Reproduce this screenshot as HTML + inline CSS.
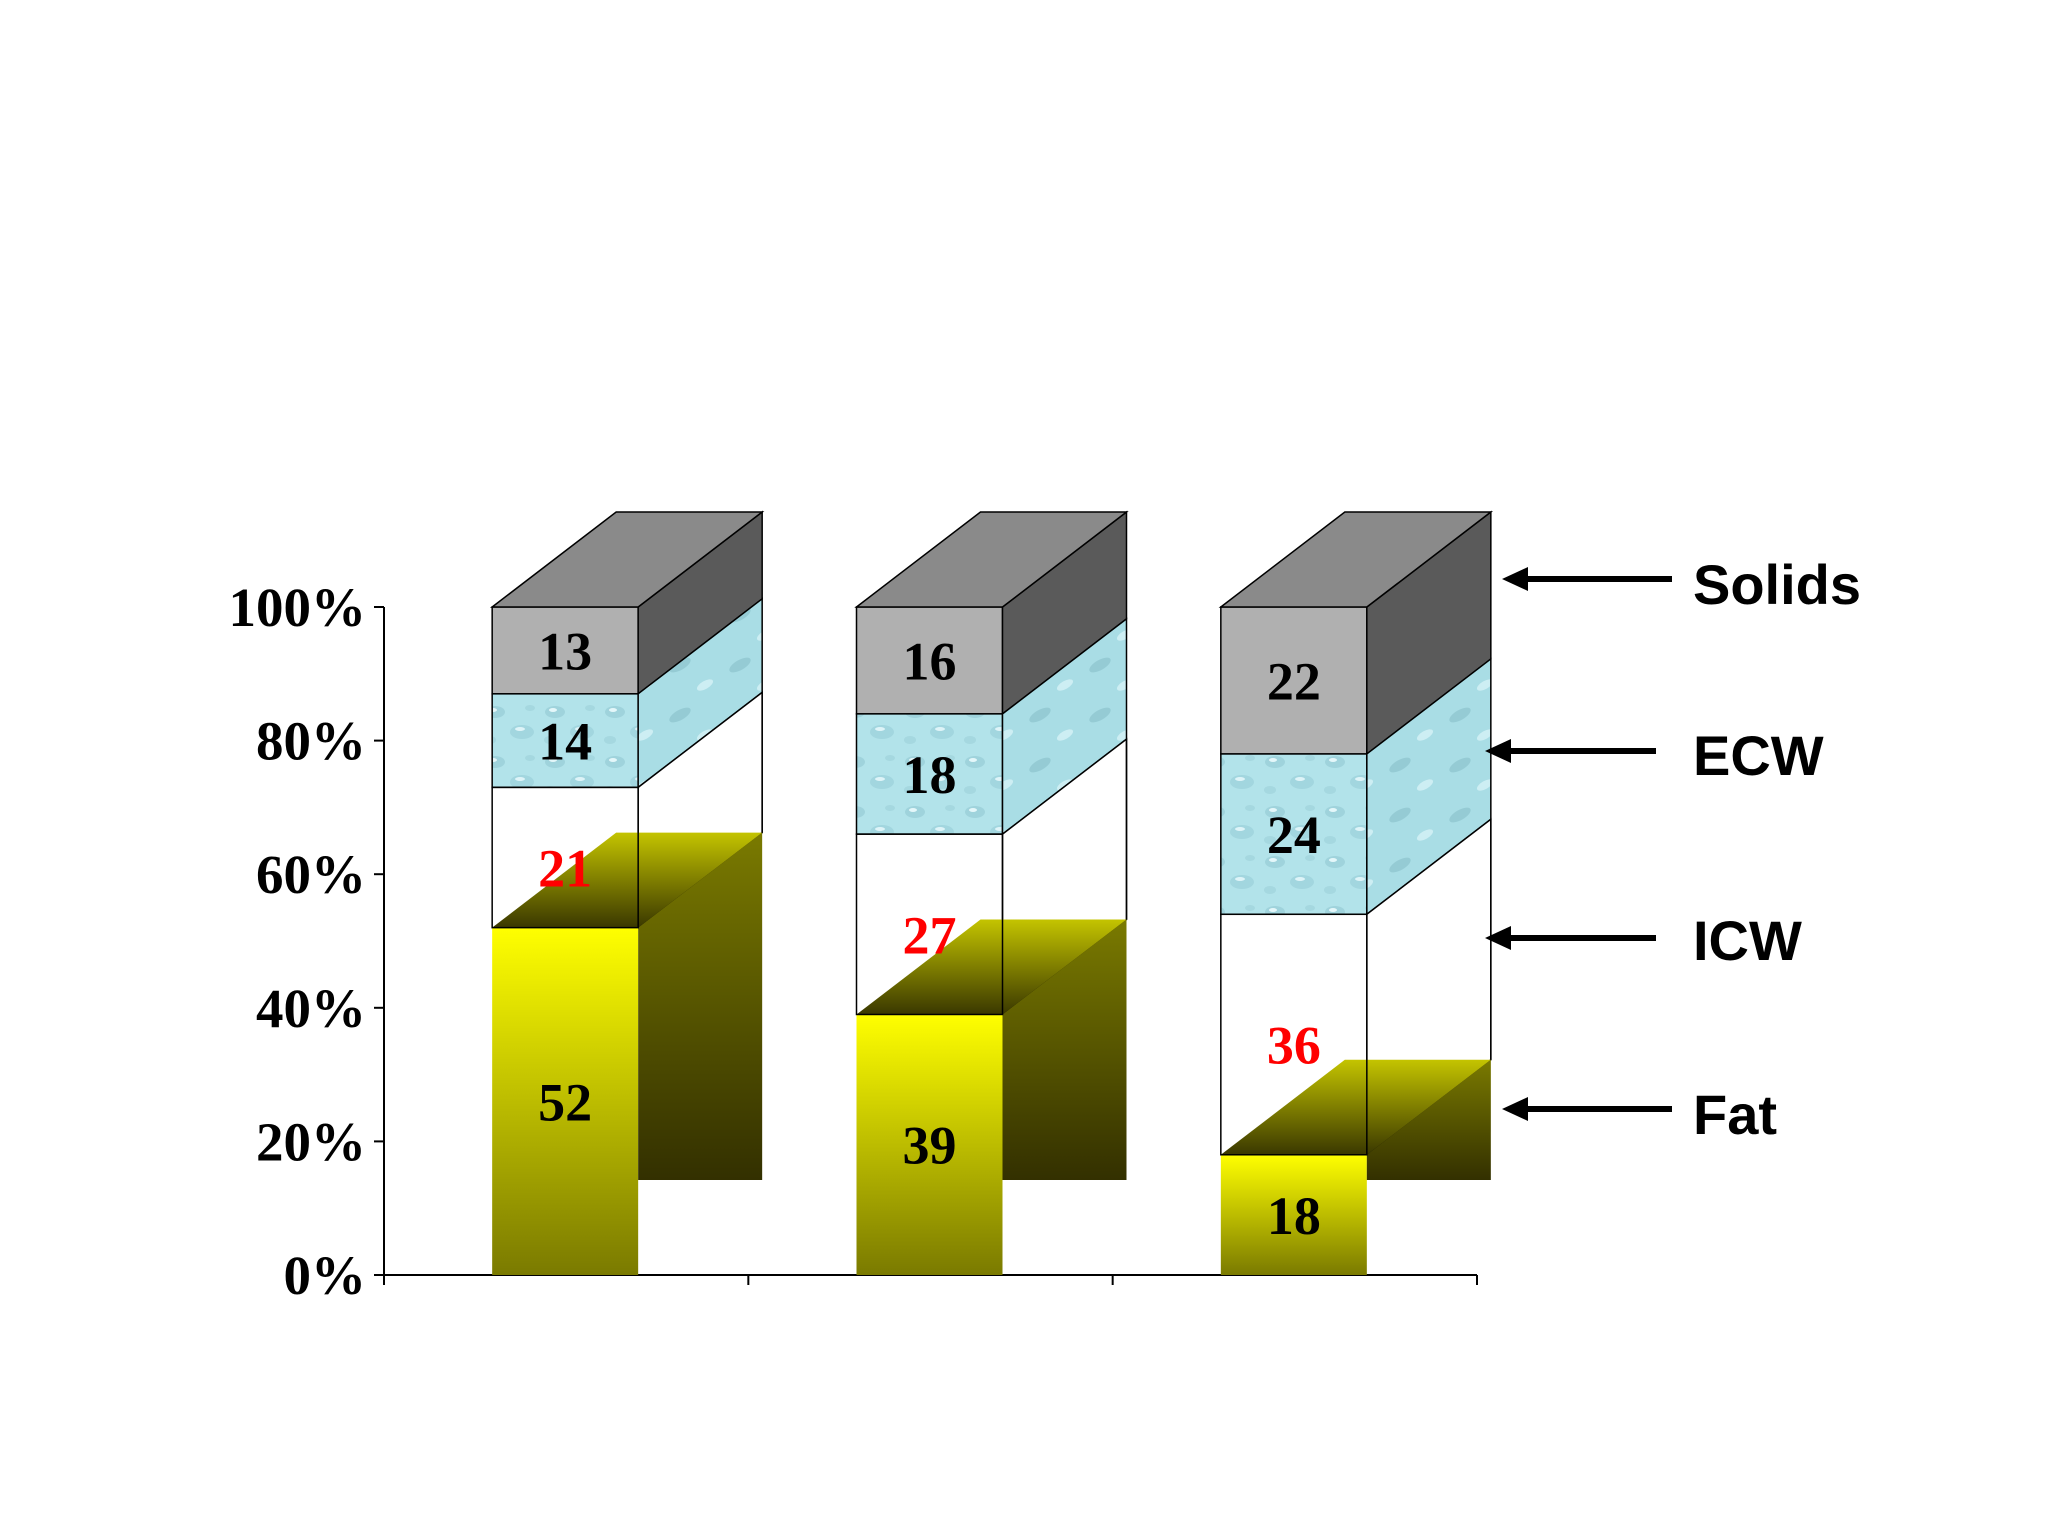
<!DOCTYPE html>
<html><head><meta charset="utf-8"><style>
html,body{margin:0;padding:0;background:#fff;width:2048px;height:1536px;overflow:hidden}
svg{display:block}
</style></head><body>
<svg id="chart" width="2048" height="1536" viewBox="0 0 2048 1536" xmlns="http://www.w3.org/2000/svg">
<defs>
<linearGradient id="fatFront" x1="0" y1="0" x2="0" y2="1"><stop offset="0" stop-color="#ffff00"/><stop offset="1" stop-color="#7a7a00"/></linearGradient>
<linearGradient id="fatSide" x1="0" y1="0" x2="0" y2="1"><stop offset="0" stop-color="#7a7a00"/><stop offset="1" stop-color="#333000"/></linearGradient>
<linearGradient id="fatTop" x1="0" y1="0" x2="0" y2="1"><stop offset="0" stop-color="#c4c400"/><stop offset="1" stop-color="#3a3800"/></linearGradient>
<pattern id="water" width="60" height="50" patternUnits="userSpaceOnUse">
<rect width="60" height="50" fill="#b2e3ea"/>
<ellipse cx="15" cy="12" rx="10" ry="6" fill="#9fd3dc"/><ellipse cx="13" cy="10" rx="4" ry="2" fill="#e4f7fa"/>
<ellipse cx="42" cy="32" rx="12" ry="7" fill="#a2d6df"/><ellipse cx="40" cy="29" rx="5" ry="2" fill="#def4f8"/>
<ellipse cx="50" cy="8" rx="5" ry="3" fill="#a5d8e0"/><ellipse cx="10" cy="40" rx="6" ry="4" fill="#a5d8e0"/>
</pattern>
<pattern id="waterSide" width="60" height="50" patternUnits="userSpaceOnUse">
<rect width="60" height="50" fill="#a9dde5"/>
<ellipse cx="20" cy="15" rx="12" ry="5" fill="#95cbd4" transform="rotate(-30 20 15)"/><ellipse cx="45" cy="35" rx="9" ry="4" fill="#cdeef3" transform="rotate(-30 45 35)"/>
</pattern>
</defs>
<g id="layer"></g>
</svg>
<script>
const categories = ["A", "B", "C"];
const fatValues = [52, 39, 18];
const icwValues = [21, 27, 36];
const ecwValues = [14, 18, 24];
const solidsValues = [13, 16, 22];
const yTicks = [0, 20, 40, 60, 80, 100];
const yTickLabels = ["0%", "20%", "40%", "60%", "80%", "100%"];
const legendLabels = ["Solids", "ECW", "ICW", "Fat"];

const NS = "http://www.w3.org/2000/svg";
const g = document.getElementById("layer");
const X0 = 384, X1 = 1477, Y0 = 1275, Y100 = 607;
const DX = 124, DY = 95, BW = 146;
const y = v => Y0 - (Y0 - Y100) * v / 100;
const slot = (X1 - X0) / categories.length;
const bx = i => X0 + slot * i + (slot - BW) / 2 - 1;

function mk(tag, attrs, parent) {
  const e = document.createElementNS(NS, tag);
  for (const k in attrs) e.setAttribute(k, attrs[k]);
  (parent || g).appendChild(e);
  return e;
}
const poly = pts => pts.map(p => p.join(",")).join(" ");

const ax = mk("line", {x1: X0, y1: Y0, x2: X1, y2: Y0, stroke: "#000", "stroke-width": 2});


const ay = mk("line", {x1: X0, y1: Y100, x2: X0, y2: Y0 + 9, stroke: "#000", "stroke-width": 2});


for (let i = 0; i <= categories.length; i++) {
  const t = mk("line", {x1: X0 + slot * i, y1: Y0, x2: X0 + slot * i, y2: Y0 + 10, stroke: "#000", "stroke-width": 2});
  
  
}
yTicks.forEach((v, i) => {
  const t = mk("line", {x1: X0 - 10, y1: y(v), x2: X0, y2: y(v), stroke: "#000", "stroke-width": 2});
  
  
  const l = mk("text", {x: 366, y: y(v) + 19, "text-anchor": "end", "font-family": "Liberation Serif, serif", "font-weight": "bold", "font-size": 55});
  l.textContent = yTickLabels[i];
  
  
});

function label(txt, cx, cy, color) {
  const t = mk("text", {x: cx, y: cy + 19, "text-anchor": "middle", "font-family": "Liberation Serif, serif", "font-weight": "bold", "font-size": 54, fill: color});
  t.textContent = txt;
  
  
}

categories.forEach((c, i) => {
  const L = bx(i), R = L + BW;
  const f = fatValues[i], ic = icwValues[i], ec = ecwValues[i], so = solidsValues[i];
  const yF = y(f), yI = y(f + ic), yE = y(f + ic + ec), yS = y(f + ic + ec + so);
  const sf = mk("rect", {x: L, y: yS, width: BW, height: yE - yS, fill: "#b0b0b0", stroke: "#000", "stroke-width": 1.5});
  
  
  mk("polygon", {points: poly([[R, yS], [R + DX, yS - DY], [R + DX, yE - DY], [R, yE]]), fill: "#5a5a5a", stroke: "#000", "stroke-width": 1.5});
  mk("polygon", {points: poly([[L, yS], [L + DX, yS - DY], [R + DX, yS - DY], [R, yS]]), fill: "#8a8a8a", stroke: "#000", "stroke-width": 1.5});
  const ef = mk("rect", {x: L, y: yE, width: BW, height: yI - yE, fill: "url(#water)", stroke: "#000", "stroke-width": 1.5});
  
  
  mk("polygon", {points: poly([[R, yE], [R + DX, yE - DY], [R + DX, yI - DY], [R, yI]]), fill: "url(#waterSide)", stroke: "#000", "stroke-width": 1.5});
  mk("polygon", {points: poly([[R, yI], [R + DX, yI - DY], [R + DX, yF - DY], [R, yF]]), fill: "#fff", stroke: "#000", "stroke-width": 1.5});
  const ff = mk("rect", {x: L, y: yF, width: BW, height: Y0 - yF, fill: "url(#fatFront)"});
  
  
  mk("polygon", {points: poly([[R, yF], [R + DX, yF - DY], [R + DX, Y0 - DY], [R, Y0 - DY]]), fill: "url(#fatSide)"});
  mk("polygon", {points: poly([[L, yF], [L + DX, yF - DY], [R + DX, yF - DY], [R, yF]]), fill: "url(#fatTop)"});
  const icf = mk("rect", {x: L, y: yI, width: BW, height: yF - yI, fill: "none", stroke: "#000", "stroke-width": 1.5});
  
  
  mk("line", {x1: R + DX, y1: yI - DY, x2: R + DX, y2: yF - DY, stroke: "#000", "stroke-width": 1.5});
  label(so, L + BW / 2, (yS + yE) / 2, "#000");
  label(ec, L + BW / 2, (yE + yI) / 2, "#000");
  label(ic, L + BW / 2, (yI + yF) / 2 + 10, "#ff0000");
  label(f, L + BW / 2, (yF + Y0) / 2, "#000");
});

const legY = [[1502, 579, 584], [1485, 751, 755], [1485, 938, 940], [1502, 1109, 1114]];
legendLabels.forEach((name, i) => {
  const [ax0, ay0, ty] = legY[i];
  const tail = i === 0 || i === 3 ? 1672 : 1656;
  const a = mk("line", {x1: ax0 + 20, y1: ay0, x2: tail, y2: ay0, stroke: "#000", "stroke-width": 6});
  
  
  mk("polygon", {points: poly([[ax0, ay0], [ax0 + 26, ay0 - 12], [ax0 + 26, ay0 + 12]]), fill: "#000"});
  const t = mk("text", {x: 1693, y: ty + 20, "font-family": "Liberation Sans, sans-serif", "font-weight": "bold", "font-size": 56});
  t.textContent = name;
  
  
});
</script>
</body></html>
